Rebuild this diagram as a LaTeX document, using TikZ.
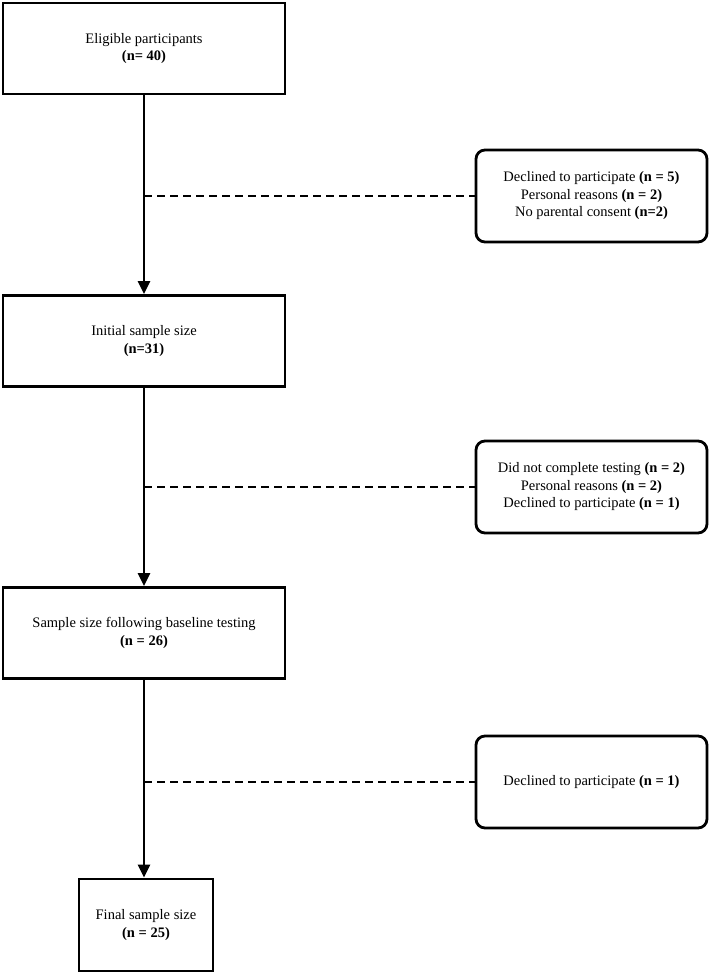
\documentclass[tikz,border=0pt]{standalone}
\usepackage{fontspec}
\setmainfont{Liberation Serif}
\usetikzlibrary{arrows.meta}
\begin{document}
\begin{tikzpicture}[x=1pt,y=-1pt,font=\fontsize{14.5}{17.5}\selectfont]
    \tikzstyle{box}=[draw=black,line width=2.8pt,align=center,inner sep=0pt]
    \tikzstyle{main box}=[box,minimum width=282pt,minimum height=91pt]
    \tikzstyle{final box}=[box,minimum width=134pt,minimum height=92pt]
    \tikzstyle{excl box}=[box,rounded corners=9pt,minimum width=231pt,minimum height=92pt]
    \tikzstyle{flow}=[line width=2.8pt,-{Triangle[length=13pt,width=12pt]}]
    \tikzstyle{drop}=[line width=1.6pt,dash pattern=on 8pt off 5pt]

    \useasboundingbox (0,0) rectangle (709,974);

    % Draw the main stages
    \node[main box] (B-1) at (144,48.5) {Eligible participants\\ \textbf{(n= 40)}};
    \node[main box] (B-2) at (144,341) {Initial sample size\\ \textbf{(n=31)}};
    \node[main box] (B-3) at (144,633) {Sample size following baseline testing\\ \textbf{(n = 26)}};
    \node[final box] (B-4) at (146,925) {Final sample size\\ \textbf{(n = 25)}};

    % Draw the exclusion boxes
    \node[excl box] (E-1) at (591.5,196) {Declined to participate \textbf{(n = 5)}\\ Personal reasons \textbf{(n = 2)}\\ No parental consent \textbf{(n=2)}};
    \node[excl box] (E-2) at (591.5,487) {Did not complete testing \textbf{(n = 2)}\\ Personal reasons \textbf{(n = 2)}\\ Declined to participate \textbf{(n = 1)}};
    \node[excl box] (E-3) at (591.5,782) {Declined to participate \textbf{(n = 1)}};

    \foreach \a/\b in {1/2,2/3}
      \draw[flow] (B-\a) -- (B-\b);
    \draw[flow] (B-3) -- (B-3 |- B-4.north);

    \foreach \n in {1,2,3}
      \draw[drop] (E-\n.west -| B-1) -- (E-\n.west);
\end{tikzpicture}
\end{document}
